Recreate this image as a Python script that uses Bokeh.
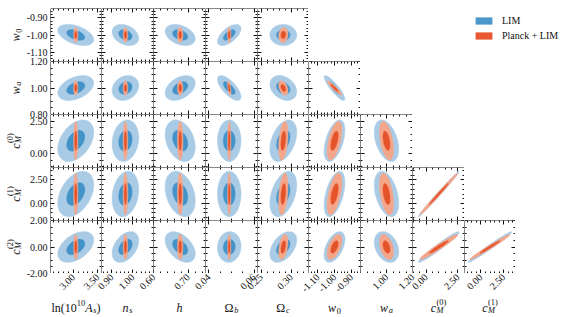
import numpy as np
from bokeh.plotting import figure
from bokeh.models import (Range1d, LinearAxis, FixedTicker, PrintfTickFormatter,
                          Legend, LegendItem, Spacer)
from bokeh.layouts import row, column
from bokeh.core.properties import value
from bokeh.embed import file_html
from bokeh.resources import INLINE

FONT = "Liberation Serif"

# ---------------- data ----------------
col_params = ["lnAs", "ns", "h", "Ob", "Oc", "w0", "wa", "cM0", "cM1"]
row_params = ["w0", "wa", "cM0", "cM1", "cM2"]

fiducial = {"lnAs": 3.05, "ns": 0.965, "h": 0.677, "Ob": 0.049, "Oc": 0.287,
            "w0": -1.0, "wa": 1.0, "cM0": 1.0, "cM1": 1.0, "cM2": 0.0}
sigma_lim = {"lnAs": 0.185, "ns": 0.032, "h": 0.0217, "Ob": 0.0026, "Oc": 0.0112,
             "w0": 0.031, "wa": 0.047, "cM0": 0.80, "cM1": 1.20, "cM2": 0.58}
sigma_pl = {"lnAs": 0.022, "ns": 0.0055, "h": 0.004, "Ob": 0.00037, "Oc": 0.0039,
            "w0": 0.022, "wa": 0.027, "cM0": 0.74, "cM1": 1.10, "cM2": 0.47}

corr_lim = {
    ("w0", "lnAs"): -0.45, ("w0", "ns"): -0.30, ("w0", "h"): -0.35, ("w0", "Ob"): 0.60, ("w0", "Oc"): 0.0,
    ("wa", "lnAs"): 0.40, ("wa", "ns"): 0.20, ("wa", "h"): 0.40, ("wa", "Ob"): -0.70, ("wa", "Oc"): -0.30,
    ("wa", "w0"): -0.88,
    ("cM0", "lnAs"): 0.40, ("cM0", "ns"): 0.15, ("cM0", "h"): -0.30, ("cM0", "Ob"): 0.0, ("cM0", "Oc"): 0.40,
    ("cM0", "w0"): 0.50, ("cM0", "wa"): -0.40,
    ("cM1", "lnAs"): 0.40, ("cM1", "ns"): 0.20, ("cM1", "h"): -0.30, ("cM1", "Ob"): 0.0, ("cM1", "Oc"): 0.40,
    ("cM1", "w0"): 0.50, ("cM1", "wa"): -0.40, ("cM1", "cM0"): 0.993,
    ("cM2", "lnAs"): 0.45, ("cM2", "ns"): 0.40, ("cM2", "h"): -0.45, ("cM2", "Ob"): 0.05, ("cM2", "Oc"): 0.45,
    ("cM2", "w0"): 0.50, ("cM2", "wa"): -0.30, ("cM2", "cM0"): 0.97, ("cM2", "cM1"): 0.985,
}
corr_pl = {
    ("w0", "lnAs"): 0.0, ("w0", "ns"): 0.0, ("w0", "h"): 0.0, ("w0", "Ob"): 0.0, ("w0", "Oc"): 0.10,
    ("wa", "lnAs"): 0.0, ("wa", "ns"): 0.0, ("wa", "h"): 0.0, ("wa", "Ob"): -0.50, ("wa", "Oc"): -0.40,
    ("wa", "w0"): -0.93,
    ("cM0", "lnAs"): 0.0, ("cM0", "ns"): 0.0, ("cM0", "h"): 0.0, ("cM0", "Ob"): 0.0, ("cM0", "Oc"): 0.35,
    ("cM0", "w0"): 0.55, ("cM0", "wa"): -0.45,
    ("cM1", "lnAs"): 0.0, ("cM1", "ns"): 0.0, ("cM1", "h"): 0.0, ("cM1", "Ob"): 0.0, ("cM1", "Oc"): 0.35,
    ("cM1", "w0"): 0.55, ("cM1", "wa"): -0.45, ("cM1", "cM0"): 0.993,
    ("cM2", "lnAs"): 0.0, ("cM2", "ns"): 0.0, ("cM2", "h"): 0.0, ("cM2", "Ob"): 0.0, ("cM2", "Oc"): 0.40,
    ("cM2", "w0"): 0.55, ("cM2", "wa"): -0.40, ("cM2", "cM0"): 0.97, ("cM2", "cM1"): 0.985,
}

# axis limits and tick labels
x_limits = {"lnAs": (2.53, 3.58), "ns": (0.85, 1.10), "h": (0.60, 0.75), "Ob": (0.0385, 0.0615),
            "Oc": (0.244, 0.329), "w0": (-1.155, -0.845), "wa": (0.80, 1.20),
            "cM0": (-1.06, 3.02), "cM1": (-1.80, 3.80)}
y_limits = {"w0": (-1.155, -0.845), "wa": (0.80, 1.20), "cM0": (-1.06, 3.02),
            "cM1": (-1.80, 3.80), "cM2": (-2.0, 2.0)}
x_ticks = {"lnAs": [3.0, 3.5], "ns": [0.9, 1.0], "h": [0.6, 0.7], "Ob": [0.04, 0.06],
           "Oc": [0.25, 0.30], "w0": [-1.1, -1.0, -0.9], "wa": [1.0, 1.2],
           "cM0": [0.0, 2.5], "cM1": [0.0, 2.5]}
y_ticks = {"w0": [-1.1, -1.0, -0.9], "wa": [0.8, 1.0, 1.2], "cM0": [0.0, 2.5],
           "cM1": [0.0, 2.5], "cM2": [-2.0, 0.0, 2.0]}
minor_step = {"lnAs": 0.1, "ns": 0.02, "h": 0.02, "Ob": 0.005, "Oc": 0.01, "w0": 0.02,
              "wa": 0.05, "cM0": 0.5, "cM1": 0.5, "cM2": 0.5}

series = ["LIM", "Planck + LIM"]
sigma_levels = [2.0, 1.0]

# ---------------- style / geometry ----------------
C_LIM = ["#a9cbe5", "#4392c8"]
C_PL = ["#f4a68b", "#e5532b"]
LEG_COLORS = ["#4a98ca", "#e8572f"]
INK = "#111111"

COL_W = [51, 52, 52, 52, 51, 52, 52, 52, 51]
ROW_H = 53
TOP_PAD = 8
LEFT_W = 50
TOTAL_H = 316
BOT_W = 525
BOT_H = TOTAL_H - TOP_PAD - 5 * ROW_H
XLAB_Y = 12.0   # centre of the x variable names above the strip's bottom edge

t = np.linspace(0, 2 * np.pi, 160)


def ellipse(cx, cy, sx, sy, r, k):
    x = cx + k * sx * np.cos(t)
    y = cy + k * sy * (r * np.cos(t) + np.sqrt(1 - r * r) * np.sin(t))
    return x, y


def minor_list(lo, hi, step):
    start = np.ceil(lo / step - 1e-9) * step
    return [float(v) for v in np.arange(start, hi + 1e-12, step)]


def tick_axis(ax, ticks, minor):
    ax.ticker = FixedTicker(ticks=ticks, minor_ticks=minor)
    ax.major_tick_in = 4
    ax.major_tick_out = 0
    ax.minor_tick_in = 2
    ax.minor_tick_out = 0
    ax.axis_line_color = INK
    ax.major_tick_line_color = INK
    ax.minor_tick_line_color = INK
    ax.major_label_overrides = {tk: "" for tk in ticks}


def label_axis(ax, ticks, orient=None):
    ax.ticker = FixedTicker(ticks=ticks)
    ax.formatter = PrintfTickFormatter(format="%.2f")
    ax.major_tick_in = 0
    ax.major_tick_out = 0
    ax.minor_tick_in = 0
    ax.minor_tick_out = 0
    ax.axis_line_color = None
    ax.major_label_text_font = FONT
    ax.major_label_text_font_size = "10px"
    ax.major_label_text_color = INK
    ax.major_label_standoff = 3
    if orient is not None:
        ax.major_label_orientation = orient


def panel(ri, ci):
    rp, cp = row_params[ri], col_params[ci]
    xr = Range1d(*x_limits[cp])
    yr = Range1d(*y_limits[rp])
    p = figure(frame_width=COL_W[ci], frame_height=ROW_H, x_range=xr, y_range=yr,
               min_border=0, toolbar_location=None, tools="", output_backend="svg")
    p.outline_line_color = None
    p.grid.grid_line_color = None
    for sig, cor, cols in ((sigma_lim, corr_lim, C_LIM), (sigma_pl, corr_pl, C_PL)):
        for lev, col in zip(sigma_levels, cols):
            ex, ey = ellipse(fiducial[cp], fiducial[rp], sig[cp], sig[rp], cor[(rp, cp)], lev)
            p.patch(ex, ey, fill_color=col, line_color=col, line_width=0.5)
    xt, yt = x_ticks[cp], y_ticks[rp]
    xm = minor_list(*x_limits[cp], minor_step[cp])
    ym = minor_list(*y_limits[rp], minor_step[rp])
    bx, ly = p.xaxis[0], p.yaxis[0]
    bx.fixed_location = yr.start
    ly.fixed_location = xr.start
    tick_axis(bx, xt, xm)
    tick_axis(ly, yt, ym)
    ax_top = LinearAxis(fixed_location=yr.end)
    ax_right = LinearAxis(fixed_location=xr.end)
    tick_axis(ax_top, xt, xm)
    tick_axis(ax_right, yt, ym)
    p.add_layout(ax_top, "above")
    p.add_layout(ax_right, "right")
    return p


def blank(w, h):
    f = figure(frame_width=w, frame_height=h, x_range=Range1d(0, w), y_range=Range1d(0, h),
               min_border=0, x_axis_location=None, y_axis_location=None,
               toolbar_location=None, tools="", output_backend="svg")
    f.outline_line_color = None
    f.grid.grid_line_color = None
    return f


CW_R = {"l": 0.278, "n": 0.5, "(": 0.333, ")": 0.333, "Ω": 0.768, " ": 0.25}
CW_I = {"A": 0.611, "s": 0.389, "n": 0.5, "h": 0.5, "b": 0.5, "c": 0.444, "w": 0.667,
        "a": 0.5, "M": 0.833}


def tw(s, it, size):
    tab = CW_I if it else CW_R
    return sum(tab.get(ch, 0.5) for ch in s) * size


def draw_label(f, segs, cx, cy, angle, size=12.0):
    # segs: (text, italic, pos) pos in n / sub / sup / stk (sup stacked over previous sub)
    placed = []
    u = 0.0
    last_start = 0.0
    for txt, it, pos in segs:
        sz = size if pos == "n" else size * 0.7
        w = tw(txt, it, sz)
        if pos == "stk":
            start = last_start
            u = max(u, start + w)
        else:
            start = u + (0.05 * size if pos == "sub" else 0.0)
            last_start = start
            u = start + w
        placed.append((txt, it, pos, sz, start))
    total = u
    ca, sa = np.cos(angle), np.sin(angle)
    v0 = -0.3 * size
    for txt, it, pos, sz, start in placed:
        uu = start - total / 2
        v = v0 + {"n": 0.0, "sub": -0.22 * size, "sup": 0.42 * size, "stk": 0.45 * size}[pos]
        x = cx + uu * ca - v * sa
        y = cy + uu * sa + v * ca
        f.text(x=[x], y=[y], text=[txt], angle=angle, text_font=value(FONT),
               text_font_style="italic" if it else "normal", text_font_size=f"{sz:.1f}px",
               text_align="left", text_baseline="alphabetic", text_color=INK)


labels = {
    "lnAs": [("ln(10", False, "n"), ("10", False, "sup"), ("A", True, "n"), ("s", True, "sub"), (")", False, "n")],
    "ns": [("n", True, "n"), ("s", True, "sub")],
    "h": [("h", True, "n")],
    "Ob": [("Ω", False, "n"), ("b", True, "sub")],
    "Oc": [("Ω", False, "n"), ("c", True, "sub")],
    "w0": [("w", True, "n"), ("0", False, "sub")],
    "wa": [("w", True, "n"), ("a", True, "sub")],
    "cM0": [("c", True, "n"), ("M", True, "sub"), ("(0)", False, "stk")],
    "cM1": [("c", True, "n"), ("M", True, "sub"), ("(1)", False, "stk")],
    "cM2": [("c", True, "n"), ("M", True, "sub"), ("(2)", False, "stk")],
}

# ---------------- left strip: y tick labels + y variable names ----------------
left = blank(LEFT_W, TOTAL_H)
for ri, rp in enumerate(row_params):
    y_hi = TOTAL_H - (TOP_PAD + ri * ROW_H)
    y_lo = y_hi - ROW_H
    lo, hi = y_limits[rp]
    s = (hi - lo) / ROW_H
    rname = f"r{ri}"
    left.extra_y_ranges[rname] = Range1d(lo - y_lo * s, lo + (TOTAL_H - y_lo) * s)
    ticks = y_ticks[rp]
    left.text(x=[LEFT_W - 3] * len(ticks), y=ticks, text=["%.2f" % v for v in ticks],
              y_range_name=rname, text_align="right", text_baseline="middle",
              text_font=value(FONT), text_font_size="10px", text_color=INK)
    draw_label(left, labels[rp], 12.0, (y_lo + y_hi) / 2, np.pi / 2)

# ---------------- bottom strip: x tick labels + x variable names ----------------
bottom = blank(BOT_W, BOT_H)
x0 = 0
for ci, cp in enumerate(col_params):
    lo, hi = x_limits[cp]
    s = (hi - lo) / COL_W[ci]
    bottom.extra_x_ranges[f"c{ci}"] = Range1d(lo - x0 * s, lo + (BOT_W - x0) * s)
    ax = LinearAxis(x_range_name=f"c{ci}", fixed_location=BOT_H)
    label_axis(ax, x_ticks[cp], np.pi / 4)
    ax.major_label_standoff = 2
    bottom.add_layout(ax, "below")
    draw_label(bottom, labels[cp], x0 + COL_W[ci] / 2, XLAB_Y, 0.0)
    x0 += COL_W[ci]

# ---------------- panel rows ----------------
prow = [Spacer(width=10, height=TOP_PAD)]
for ri, rp in enumerate(row_params):
    items = [panel(ri, ci) for ci in range(5 + ri)]
    if ri == 0:
        lg = blank(265, ROW_H)
        rend = [lg.quad(left=[np.nan], right=[np.nan], top=[np.nan], bottom=[np.nan],
                        fill_color=c, line_color=None) for c in LEG_COLORS]
        leg = Legend(items=[LegendItem(label=s, renderers=[r]) for s, r in zip(series, rend)],
                     location=(165, 19), glyph_width=21, glyph_height=9, label_height=14,
                     label_standoff=8, spacing=1, padding=0, margin=0,
                     border_line_color=None, background_fill_alpha=0,
                     label_text_font=FONT, label_text_font_size="10px",
                     label_text_color=INK)
        lg.add_layout(leg)
        items.append(lg)
    prow.append(row(*items))
prow.append(bottom)

layout = row(left, column(*prow))
open("out.html", "w").write(file_html(layout, INLINE))
